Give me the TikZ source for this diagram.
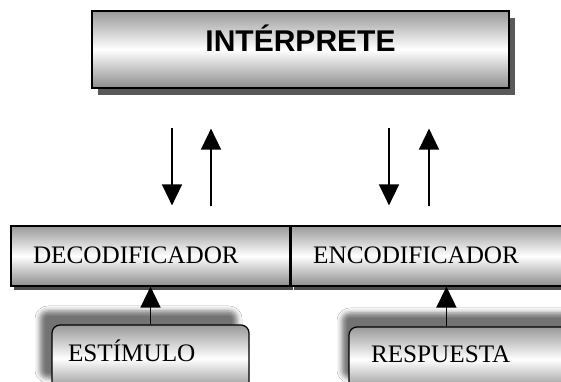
\documentclass[tikz,border=0pt]{standalone}
\usepackage{fontspec}
\setmainfont{Liberation Serif}
\newfontfamily\titulo{Liberation Sans}
\usepackage{tikz}
\usetikzlibrary{shadows,shadows.blur}
\usetikzlibrary{arrows.meta}
\usetikzlibrary{calc}

\begin{document}
\begin{tikzpicture}[x=1pt, y=1pt,
 caja/.style={draw, line width=1.2pt, top color=black!40, bottom color=black!45, middle color=white, inner ysep=0pt},
 texto/.style={font=\fontsize{25.2}{30}\selectfont, text height=17pt, text depth=1pt, align=left},
 flecha/.style={-{Triangle[length=21pt,width=20pt]}, line width=1.6pt}]

\clip (0,0) rectangle (561,382);
\fill[white] (0,0) rectangle (561,382);

% caja de arriba
\node[caja, minimum width=417pt, minimum height=77pt, text height=22pt, text depth=17.6pt,
 drop shadow={shadow xshift=6pt, shadow yshift=-7pt, fill=black!65, opacity=1},
 font=\titulo\bfseries\fontsize{30}{36}\selectfont] (int) at (300.5,332.5) {INTÉRPRETE};

% barra
\node[caja, texto, minimum height=60pt, inner xsep=22pt, text width=235pt,
 drop shadow={shadow xshift=3pt, shadow yshift=-4pt, fill=black!70, opacity=1}] (deco) at (150.5,126) {DECODIFICADOR};
\node[caja, texto, minimum height=60pt, inner xsep=22pt, text width=256pt, anchor=west,
 drop shadow={shadow xshift=3pt, shadow yshift=-4pt, fill=black!70, opacity=1}] (enco) at (deco.east) {ENCODIFICADOR};

% cajas de abajo
\node[caja, texto, rounded corners=8pt, minimum height=67pt, text depth=10pt, inner xsep=16pt, text width=165pt,
 blur shadow={shadow xshift=-12pt, shadow yshift=14pt, shadow blur radius=5pt, shadow opacity=55}] (est) at (150.5,23.5) {ESTÍMULO};
\node[caja, texto, rounded corners=8pt, minimum height=65pt, text depth=10pt, inner xsep=22pt, text width=207pt,
 blur shadow={shadow xshift=-7pt, shadow yshift=14pt, shadow blur radius=5pt, shadow opacity=55}] (res) at (474.5,22.5) {RESPUESTA};

% flechas
\draw[flecha, shorten <=39pt, shorten >=20pt] ([xshift=-128.5pt]int.south) -- ([xshift=-128.5pt]int.south |- deco.north);
\draw[flecha, shorten <=19pt, shorten >=40pt] ([xshift=-89.5pt]int.south |- deco.north) -- ([xshift=-89.5pt]int.south);
\draw[flecha, shorten <=39pt, shorten >=20pt] ([xshift=88.5pt]int.south) -- ([xshift=88.5pt]int.south |- enco.north);
\draw[flecha, shorten <=19pt, shorten >=40pt] ([xshift=128.5pt]int.south |- enco.north) -- ([xshift=128.5pt]int.south);

\draw[flecha] (est.north) -- (est.north |- deco.south);
\draw[flecha] ([xshift=98pt]res.north west) -- ([xshift=98pt]res.north west |- enco.south);

\end{tikzpicture}
\end{document}
